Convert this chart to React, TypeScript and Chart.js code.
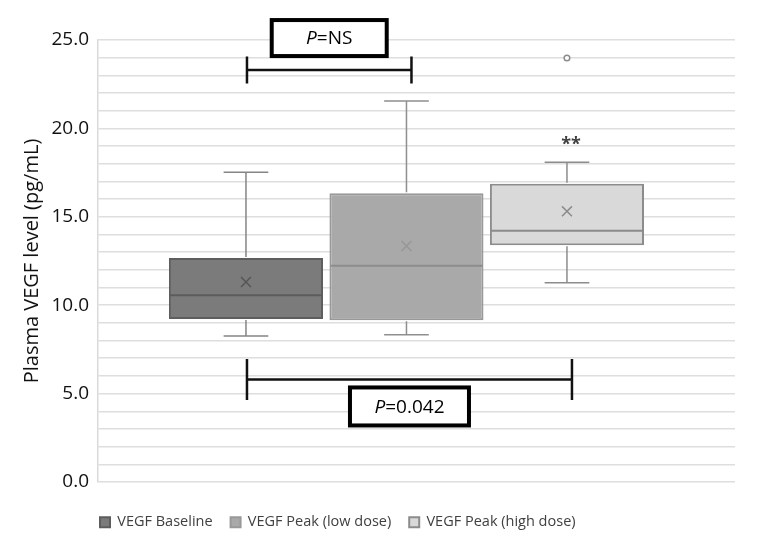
import React, { useEffect, useRef } from 'react';
import { Chart, registerables } from 'chart.js';

Chart.register(...registerables);

// ---------------- data ----------------
const seriesNames = ['VEGF Baseline', 'VEGF Peak (low dose)', 'VEGF Peak (high dose)'];
const positions = [1, 2, 3];
const q1Values = [9.22, 9.15, 13.39];
const q3Values = [12.67, 16.33, 16.87];
const medianValues = [10.56, 12.23, 14.21];
const meanValues = [11.31, 13.35, 15.31];
const whiskerLowValues = [8.26, 8.33, 11.27];
const whiskerHighValues = [17.52, 21.55, 18.08];
const outlierValues = [[], [], [23.98]];
const significanceMarks = ['', '', '**'];
const compFrom = [0, 0];
const compTo = [1, 2];
const compLevel = [23.3, 5.8];
const compText = ['NS', '0.042'];
const yMin = 0;
const yMax = 25;
const yMinorStep = 1;
const yLabelStep = 5;
const yTitle = 'Plasma VEGF level (pg/mL)';

// ---------------- styles ----------------
const FONT = '"Open Sans", "Noto Sans", sans-serif';
const fillColors = ['#7b7b7b', '#a9a9a9', '#d9d9d9'];
const borderColors = ['#5e5e5e', '#999999', '#8c8c8c'];
const medianColors = ['#5c5c5c', '#8d8d8d', '#8a8a8a'];
const meanColors = ['#555555', '#979797', '#8c8c8c'];
const whiskerColors = ['#858585', '#8f8f8f', '#8c8c8c'];
const compSide = [-1, 1]; // -1: label above line, 1: label below
const compTickHalf = [13.5, 20.5];
const compBoxOffset = [32, 27];
const compBoxSize = [[115, 36], [119, 38]];

const extrasPlugin = {
  id: 'boxExtras',
  afterLayout(chart: any) {
    const lg = chart.legend;
    if (!lg) return;
    const pad = lg.options.labels.padding;
    const dx = chart.chartArea.left + 2 - (lg.left + pad);
    lg.left += dx;
    lg.right += dx;
    lg.top += 15;
    lg.bottom += 15;
  },
  afterDatasetsDraw(chart: any) {
    const ctx: CanvasRenderingContext2D = chart.ctx;
    const ys = chart.scales.y;
    const centers: number[] = [];
    ctx.save();
    for (let i = 0; i < positions.length; i++) {
      const el = chart.getDatasetMeta(i).data[0];
      const { x: cx, width: w } = el.getProps(['x', 'width'], true);
      centers.push(cx);
      const cap = w * 0.145;
      ctx.strokeStyle = whiskerColors[i];
      ctx.lineWidth = 1.5;
      ctx.beginPath();
      const yq3 = ys.getPixelForValue(q3Values[i]);
      const yhi = ys.getPixelForValue(whiskerHighValues[i]);
      const yq1 = ys.getPixelForValue(q1Values[i]);
      const ylo = ys.getPixelForValue(whiskerLowValues[i]);
      ctx.moveTo(cx, yq3 - 1);
      ctx.lineTo(cx, yhi);
      ctx.moveTo(cx - cap, yhi);
      ctx.lineTo(cx + cap, yhi);
      ctx.moveTo(cx, yq1 + 1);
      ctx.lineTo(cx, ylo);
      ctx.moveTo(cx - cap, ylo);
      ctx.lineTo(cx + cap, ylo);
      ctx.stroke();
      // median
      const ym = ys.getPixelForValue(medianValues[i]);
      ctx.strokeStyle = medianColors[i];
      ctx.lineWidth = 2;
      ctx.beginPath();
      ctx.moveTo(cx - w / 2 + 1, ym);
      ctx.lineTo(cx + w / 2 - 1, ym);
      ctx.stroke();
      // significance
      if (significanceMarks[i]) {
        ctx.fillStyle = '#404040';
        ctx.font = `bold 18px ${FONT}`;
        ctx.textAlign = 'center';
        ctx.textBaseline = 'middle';
        ctx.fillText(significanceMarks[i], cx + 4, yhi - 17);
      }
    }
    // comparison brackets
    for (let k = 0; k < compFrom.length; k++) {
      const x1 = centers[compFrom[k]] + 1;
      const x2 = centers[compTo[k]] + 5;
      const yl = ys.getPixelForValue(compLevel[k]);
      const th = compTickHalf[k];
      ctx.strokeStyle = '#111111';
      ctx.lineWidth = 2.5;
      ctx.beginPath();
      ctx.moveTo(x1, yl);
      ctx.lineTo(x2, yl);
      ctx.moveTo(x1, yl - th);
      ctx.lineTo(x1, yl + th);
      ctx.moveTo(x2, yl - th);
      ctx.lineTo(x2, yl + th);
      ctx.stroke();
      const bx = (x1 + x2) / 2;
      const by = yl + compSide[k] * compBoxOffset[k];
      const [bw, bh] = compBoxSize[k];
      ctx.fillStyle = '#ffffff';
      ctx.fillRect(bx - bw / 2, by - bh / 2, bw, bh);
      ctx.lineWidth = 4;
      ctx.strokeStyle = '#000000';
      ctx.strokeRect(bx - bw / 2, by - bh / 2, bw, bh);
      const italicFont = `italic 19px ${FONT}`;
      const normalFont = `19px ${FONT}`;
      ctx.font = italicFont;
      const wP = ctx.measureText('P').width;
      ctx.font = normalFont;
      const rest = '=' + compText[k];
      const wR = ctx.measureText(rest).width;
      const sx = bx - (wP + wR) / 2;
      ctx.textAlign = 'left';
      ctx.textBaseline = 'middle';
      ctx.fillStyle = '#000000';
      ctx.font = italicFont;
      ctx.fillText('P', sx, by + 1);
      ctx.font = normalFont;
      ctx.fillText(rest, sx + wP, by + 1);
    }
    ctx.restore();
  },
};

export default function App() {
  const canvasRef = useRef<HTMLCanvasElement | null>(null);

  useEffect(() => {
    if (!canvasRef.current) return;
    Chart.defaults.font.family = FONT;

    const barSets = positions.map((p, i) => ({
      type: 'bar' as const,
      label: seriesNames[i],
      data: [{ x: p, y: [q1Values[i], q3Values[i]] }],
      backgroundColor: fillColors[i],
      borderColor: borderColors[i],
      borderWidth: 2,
      borderSkipped: false,
      grouped: false,
      barPercentage: 0.96,
      categoryPercentage: 1,
      order: 2,
    }));
    const meanSet = {
      type: 'scatter' as const,
      label: 'mean',
      data: positions.map((p, i) => ({ x: p, y: meanValues[i] })),
      pointStyle: 'crossRot',
      pointRadius: 7,
      pointBorderWidth: 1.5,
      pointBorderColor: meanColors,
      pointBackgroundColor: meanColors,
      showLine: false,
      order: 1,
    };
    const outlierData: { x: number; y: number }[] = [];
    outlierValues.forEach((arr, i) => arr.forEach((v) => outlierData.push({ x: positions[i], y: v })));
    const outlierSet = {
      type: 'scatter' as const,
      label: 'outliers',
      data: outlierData,
      pointStyle: 'circle',
      pointRadius: 2.8,
      pointBorderWidth: 1.5,
      pointBorderColor: '#8c8c8c',
      pointBackgroundColor: '#ffffff',
      showLine: false,
      order: 1,
    };

    const chart = new Chart(canvasRef.current, {
      type: 'bar',
      data: { datasets: [...barSets, meanSet, outlierSet] as any },
      options: {
        animation: false,
        responsive: false,
        layout: { padding: { left: 20, top: 40, right: 22, bottom: 18.5 } },
        plugins: {
          tooltip: { enabled: false },
          legend: {
            position: 'bottom',
            align: 'start',
            labels: {
              filter: (item: any) => item.datasetIndex < positions.length,
              boxWidth: 10,
              boxHeight: 10,
              padding: 18,
              color: '#404040',
              font: { size: 14.5, family: FONT },
            },
          },
        },
        scales: {
          x: {
            type: 'linear',
            min: 0.078,
            max: 4.047,
            offset: false,
            display: false,
            afterBuildTicks: (s: any) => {
              s.ticks = positions.map((v) => ({ value: v }));
            },
          },
          y: {
            min: yMin,
            max: yMax,
            afterFit: (s: any) => {
              s.width = 78;
            },
            border: { display: true, color: '#d9d9d9', width: 1.5 },
            grid: { color: '#dedede', lineWidth: 1.5, drawTicks: false },
            ticks: {
              stepSize: yMinorStep,
              autoSkip: false,
              padding: 9,
              color: '#111111',
              font: { size: 19, family: FONT },
              callback: (v: any) => (Number(v) % yLabelStep === 0 ? Number(v).toFixed(1) : ''),
            },
            title: {
              display: true,
              text: yTitle,
              color: '#111111',
              font: { size: 20, family: FONT },
              padding: { top: 0, bottom: 0 },
            },
          },
        },
      },
      plugins: [extrasPlugin],
    });
    return () => chart.destroy();
  }, []);

  return (
    <div style={{ position: 'fixed', left: 0, top: 0, width: 757, height: 543, background: '#ffffff' }}>
      <canvas ref={canvasRef} width={757} height={543} style={{ display: 'block' }} />
    </div>
  );
}
